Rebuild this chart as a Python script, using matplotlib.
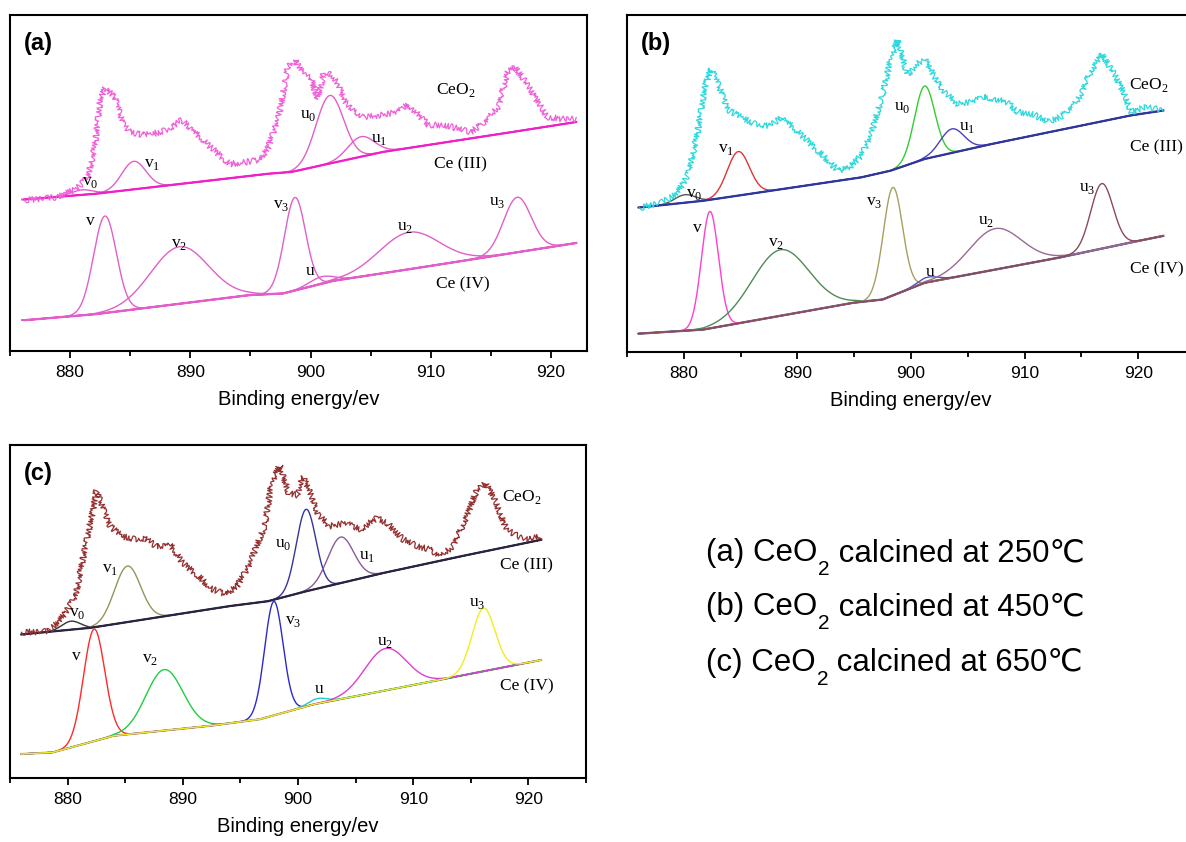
import numpy as np
import matplotlib
matplotlib.use("Agg")
import matplotlib.pyplot as plt
from matplotlib.ticker import MultipleLocator

plt.rcParams['font.family'] = ['Liberation Sans', 'DejaVu Sans']

# ---------------- data (binding energy in eV, intensity in arbitrary units) ----------------
# panel (a) 250 C
a_e = [876.2, 879.0, 880.5, 881.5, 882.1, 882.5, 882.9, 883.7, 884.4, 885.0, 886.0, 886.9,
       888.2, 889.3, 890.1, 891.4, 892.6, 893.3, 894.6, 895.8, 896.5, 897.4, 898.1, 898.7,
       899.3, 900.0, 900.6, 901.1, 901.5, 902.2, 902.8, 903.5, 904.4, 906.0, 907.3, 908.1,
       908.9, 909.8, 911.1, 912.4, 913.3, 914.3, 915.6, 916.4, 917.0, 917.8, 918.8, 919.7,
       921.0, 922.1]
a_ceo2 = [151, 154, 162, 174, 207, 251, 263, 254, 227, 219, 216, 217,
          222, 231, 222, 207, 194, 187, 189, 191, 204, 237, 284, 291,
          279, 274, 252, 278, 279, 269, 251, 241, 234, 236, 239, 247,
          237, 226, 226, 222, 219, 227, 244, 279, 284, 271, 251, 234,
          232, 232]
a_bg3_e = [876.2, 882.1, 896.5, 898.4, 901.9, 906.0, 916.8, 922.1]
a_bg3 = [151.5, 157.2, 177.3, 179.0, 188.3, 199.0, 219.0, 229.0]
a_bg4_e = [876.2, 882.1, 894.9, 897.7, 901.9, 909.2, 922.1]
a_bg4 = [30.8, 36.8, 55.9, 57.5, 70.2, 83.6, 108.0]
a_iii_center = [881.0, 885.3, 901.6, 904.2]
a_iii_height = [5, 28, 68, 20]
a_iii_sigma = [0.9, 1.0, 1.15, 1.1]
a_iv_center = [882.9, 889.1, 898.7, 900.9, 908.2, 917.2]
a_iv_height = [97, 57, 93, 7, 37, 55]
a_iv_sigma = [0.95, 2.4, 0.88, 1.0, 2.5, 1.15]

# panel (b) 450 C
b_e = [876.1, 878.1, 879.4, 880.4, 881.2, 881.9, 882.4, 883.0, 883.9, 885.0, 886.3, 887.6,
       888.6, 889.6, 890.9, 892.3, 893.6, 894.6, 895.6, 896.5, 897.5, 898.2, 898.8, 899.7,
       900.5, 901.2, 902.0, 902.8, 904.1, 905.4, 906.4, 907.4, 908.4, 909.4, 910.7, 912.0,
       913.3, 914.7, 915.7, 916.8, 917.8, 918.6, 919.4, 920.6, 922.2]
b_ceo2 = [144, 150, 158, 178, 218, 268, 283, 268, 242, 235, 228, 226,
          235, 225, 211, 196, 181, 185, 196, 218, 258, 292, 312, 277,
          288, 293, 277, 262, 248, 250, 255, 253, 250, 240, 238, 230,
          236, 252, 278, 298, 280, 262, 240, 245, 242]
b_bg3_e = [876.1, 881.7, 895.6, 898.2, 901.2, 907.1, 919.3, 922.2]
b_bg3 = [144.5, 151.2, 174.6, 181.3, 193.0, 208.0, 236.5, 241.5]
b_bg4_e = [876.1, 881.7, 894.9, 897.5, 901.2, 913.0, 919.3, 922.2]
b_bg4 = [18.4, 22.4, 49.2, 52.5, 69.2, 94.3, 109.4, 116.1]
b_iii_center = [880.1, 884.8, 901.2, 903.6]
b_iii_height = [8, 44, 73, 24]
b_iii_sigma = [0.9, 0.98, 0.9, 1.05]
b_iv_center = [882.3, 888.5, 898.4, 901.5, 907.4, 916.8]
b_iv_height = [117, 66, 108, 5, 41, 65]
b_iv_sigma = [0.75, 2.5, 0.85, 0.9, 2.3, 0.98]

# panel (c) 650 C
c_e = [876.0, 878.3, 879.3, 880.7, 881.5, 882.2, 882.5, 883.0, 883.7, 884.7, 886.0, 886.7,
       887.7, 888.9, 890.0, 891.4, 892.4, 893.7, 894.7, 895.7, 897.1, 897.7, 898.4, 899.2,
       899.9, 900.4, 901.1, 901.7, 902.7, 904.1, 905.4, 906.8, 907.8, 909.1, 910.4, 911.4,
       912.4, 913.4, 914.4, 915.5, 916.3, 917.1, 918.1, 919.1, 920.1, 921.1]
c_ceo2 = [146, 147, 157, 182, 229, 268, 288, 272, 252, 242, 239, 240,
          232, 234, 215, 202, 190, 184, 192, 212, 252, 295, 313, 285,
          283, 302, 285, 265, 252, 255, 249, 260, 255, 239, 232, 229,
          222, 232, 255, 288, 295, 278, 249, 242, 239, 242]
c_bg3_e = [876.0, 882.0, 894.0, 897.4, 900.7, 907.4, 914.1, 921.1]
c_bg3 = [143.9, 150.5, 172.1, 177.1, 187.0, 205.3, 221.9, 238.5]
c_bg4_e = [876.0, 878.7, 884.0, 892.4, 896.7, 901.4, 907.4, 921.1]
c_bg4 = [24.3, 25.9, 42.5, 52.5, 59.1, 74.1, 87.4, 118.3]
c_iii_center = [880.3, 885.2, 900.7, 903.7]
c_iii_height = [8.5, 56, 82, 46]
c_iii_sigma = [0.8, 1.13, 0.85, 1.13]
c_iv_center = [882.3, 888.4, 897.9, 901.7, 907.6, 916.1]
c_iv_height = [112, 61, 114, 5, 42, 63]
c_iv_sigma = [0.92, 1.6, 0.8, 0.8, 1.8, 1.0]

iii_names = [r'v$_\mathregular{0}$', r'v$_\mathregular{1}$', r'u$_\mathregular{0}$', r'u$_\mathregular{1}$']
iv_names = ['v', r'v$_\mathregular{2}$', r'v$_\mathregular{3}$', 'u', r'u$_\mathregular{2}$', r'u$_\mathregular{3}$']
side_names = [r'CeO$_\mathregular{2}$', 'Ce (III)', 'Ce (IV)']
temps = ['250', '450', '650']

# ---------------- styles ----------------
panels = [
    dict(tag='(a)', rect=[10/1186, 1-351/842, 577/1186, 336/842], xlim=(875, 923), ytop=336,
         data=(a_e, a_ceo2, a_bg3_e, a_bg3, a_bg4_e, a_bg4,
               a_iii_center, a_iii_height, a_iii_sigma, a_iv_center, a_iv_height, a_iv_sigma),
         spec_c='#f060d8', bg_c=('#f020c8', '#f020c8'),
         iii_c=['#e060c8'] * 4, iv_c=['#e060c8'] * 6,
         iii_lab=[(881.7, 169), (886.8, 187), (899.8, 236), (905.7, 212)],
         iv_lab=[(881.7, 130), (889.1, 107), (897.6, 146), (900.0, 80), (907.9, 124), (915.5, 149)],
         side_lab=[(912.1, 261), (912.5, 187), (912.7, 67)]),
    dict(tag='(b)', rect=[627/1186, 1-352/842, 568/1186, 337/842], xlim=(875, 925), ytop=337,
         data=(b_e, b_ceo2, b_bg3_e, b_bg3, b_bg4_e, b_bg4,
               b_iii_center, b_iii_height, b_iii_sigma, b_iv_center, b_iv_height, b_iv_sigma),
         spec_c='#2ed8dc', bg_c=('#3035a0', '#45203a'),
         iii_c=['#555555', '#e03535', '#33cc33', '#4a40c0'],
         iv_c=['#ff40cc', '#4f8a55', '#a5a060', '#5050c0', '#9a6a95', '#8a4a5a'],
         iii_lab=[(880.9, 158), (883.7, 203), (899.2, 245), (904.9, 225)],
         iv_lab=[(881.2, 124), (888.1, 109), (896.8, 150), (901.7, 80), (906.6, 131), (915.5, 164)],
         side_lab=[(920.9, 267), (921.6, 205), (921.6, 83)]),
    dict(tag='(c)', rect=[10/1186, 1-778.3/842, 576/1186, 333.3/842], xlim=(875, 925), ytop=333.3,
         data=(c_e, c_ceo2, c_bg3_e, c_bg3, c_bg4_e, c_bg4,
               c_iii_center, c_iii_height, c_iii_sigma, c_iv_center, c_iv_height, c_iv_sigma),
         spec_c='#952f2f', bg_c=('#2a2440', '#c8b040'),
         iii_c=['#333333', '#95955a', '#35359a', '#8a5a9a'],
         iv_c=['#ff2a2a', '#22cc44', '#2a2acc', '#22cccc', '#dd40cc', '#eeee22'],
         iii_lab=[(880.8, 165), (883.7, 209), (898.7, 234), (906.0, 222)],
         iv_lab=[(880.8, 122), (887.2, 119), (899.6, 157), (901.8, 89), (907.6, 136), (915.6, 175)],
         side_lab=[(919.4, 281), (919.8, 213), (919.9, 92)]),
]

serif = ['Liberation Serif', 'DejaVu Serif']

fig = plt.figure(figsize=(11.86, 8.42), dpi=100)

for p in panels:
    (e, spec, b3e, b3, b4e, b4, c3, h3, s3, c4, h4, s4) = p['data']
    ax = fig.add_axes(p['rect'])
    x = np.linspace(876, min(922.2, max(e)), 700)

    # Ce(III) components sitting on their background
    base3 = np.interp(x, b3e, b3)
    for c, h, s, col in zip(c3, h3, s3, p['iii_c']):
        ax.plot(x, base3 + h * np.exp(-(x - c) ** 2 / (2 * s ** 2)), color=col, lw=1.0)
    ax.plot(b3e, b3, color=p['bg_c'][0], lw=1.6)

    # Ce(IV) components
    base4 = np.interp(x, b4e, b4)
    ax.plot(b4e, b4, color=p['bg_c'][1], lw=1.6)
    for c, h, s, col in zip(c4, h4, s4, p['iv_c']):
        ax.plot(x, base4 + h * np.exp(-(x - c) ** 2 / (2 * s ** 2)), color=col, lw=1.0)

    # measured spectrum (hand-drawn jitter mimics the counting noise)
    line, = ax.plot(e, spec, color=p['spec_c'], lw=0.9)
    line.set_sketch_params(scale=3.0, length=1.3, randomness=8)

    for (lx, ly), t in zip(p['iii_lab'] + p['iv_lab'] + p['side_lab'],
                           iii_names + iv_names + side_names):
        ax.text(lx, ly, t, family=serif, fontsize=12.5, ha='center', va='center')

    ax.text(0.024, 0.915, p['tag'], transform=ax.transAxes, fontsize=17,
            fontweight='bold', ha='left', va='center')

    ax.set_xlim(*p['xlim'])
    ax.set_ylim(0, p['ytop'])
    ax.set_yticks([])
    ax.xaxis.set_major_locator(MultipleLocator(10))
    ax.xaxis.set_minor_locator(MultipleLocator(5))
    ax.tick_params(axis='x', which='major', direction='out', length=5, width=1.3,
                   labelsize=12.5, pad=5)
    ax.tick_params(axis='x', which='minor', direction='out', length=3.5, width=1.3)
    for sp in ax.spines.values():
        sp.set_linewidth(1.5)
    ax.set_xlabel('Binding energy/ev', fontsize=14.5, labelpad=7)

# right-hand caption
lax = fig.add_axes([0, 0, 1, 1])
lax.axis('off')
for tag, temp, yb in zip(['(a)', '(b)', '(c)'], temps, [0.3254, 0.2613, 0.1948]):
    t1 = lax.text(0.595, yb, tag + ' CeO', fontsize=22.5, ha='left', va='bottom',
                  transform=lax.transAxes)
    t2 = lax.annotate('2', xy=(1, 0), xycoords=t1, xytext=(1, 6), textcoords='offset points',
                      fontsize=15, ha='left', va='top')
    lax.annotate(' calcined at ' + temp + '℃', xy=(1, 0), xycoords=(t2, t1),
                 xytext=(0, 0), textcoords='offset points', fontsize=22.5,
                 ha='left', va='bottom')

fig.savefig('out.png', dpi=100)
